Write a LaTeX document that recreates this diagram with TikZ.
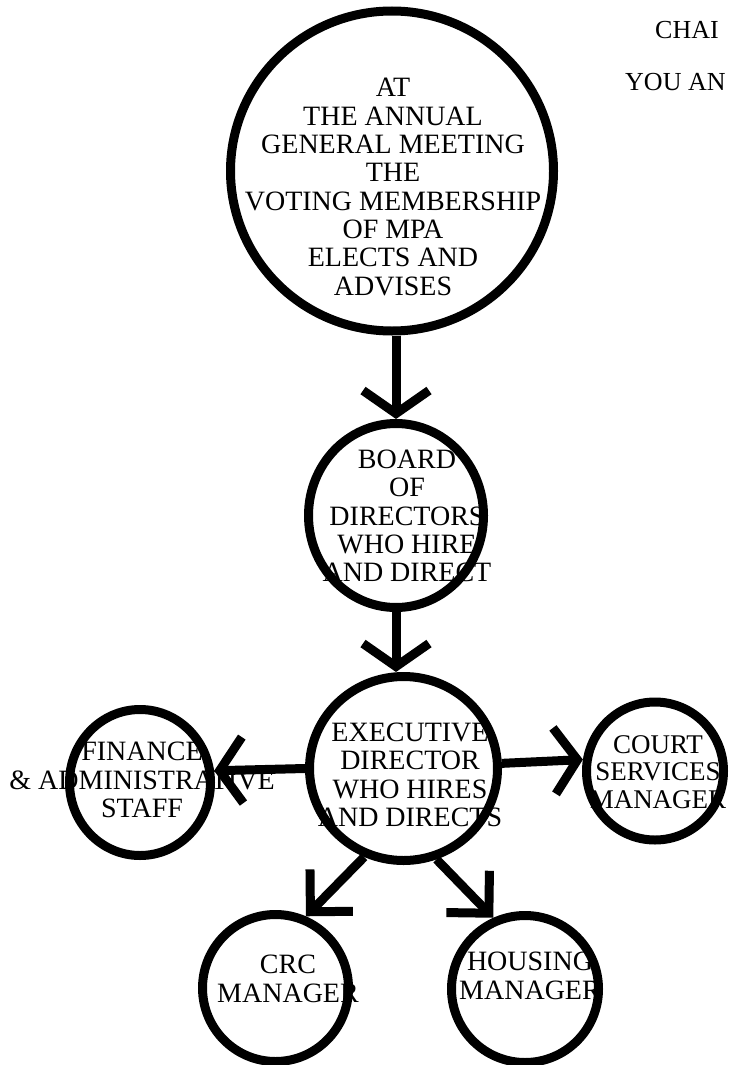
\documentclass[tikz,border=0pt]{standalone}
\usepackage{fontspec}
\setmainfont{Liberation Serif}
\usetikzlibrary{arrows.meta,shapes.geometric}
\begin{document}
\begin{tikzpicture}[x=1pt,y=-1pt,
  bub/.style={draw, ellipse, line width=9pt, inner sep=0pt},
  lbl/.style={align=center, font=\fontsize{28}{28.3}\selectfont, inner sep=0pt},
  note/.style={anchor=base west, font=\fontsize{26}{28}\selectfont, inner sep=0pt},
  link/.style={line width=9pt, -{Straight Barb[length=23pt,width=66pt]}},
  dlink/.style={line width=9pt, -{Straight Barb[length=30pt,width=60pt]}}
]
\useasboundingbox (0,0) rectangle (728,1065);

% texts (drawn first, circle strokes lie over them)
\node[lbl] (toptxt) at (393,187) {AT\\THE ANNUAL\\GENERAL MEETING\\THE\\VOTING MEMBERSHIP\\OF MPA\\ELECTS AND\\ADVISES};
\node[lbl] (boardtxt) at (407,516) {BOARD\\OF\\DIRECTORS\\WHO HIRE\\AND DIRECT};
\node[lbl] (exectxt) at (410,775) {EXECUTIVE\\DIRECTOR\\WHO HIRES\\AND DIRECTS};
\node[lbl] (fintxt) at (142,780) {FINANCE\\\& ADMINISTRATIVE\\STAFF};
\node[lbl, font=\fontsize{27}{27.3}\selectfont] (courttxt) at (658,772) {COURT\\SERVICES\\MANAGER};
\node[lbl] (crctxt) at (288,979) {CRC\\MANAGER};
\node[lbl] (houstxt) at (530,976) {HOUSING\\MANAGER};
\node[note] (chai) at (655,38) {CHAI};
\node[note] (youan) at (625,90) {YOU AN};

% circles
\node[bub, minimum width=323pt, minimum height=320pt] (top) at (392,171) {};
\node[bub, minimum width=175pt, minimum height=184pt] (board) at (396,515.5) {};
\node[bub, minimum width=188pt, minimum height=184pt] (exec) at (403.5,768.5) {};
\node[bub, minimum width=141pt, minimum height=146pt] (fin) at (140,782.5) {};
\node[bub, minimum width=137pt, minimum height=138pt] (court) at (655,771) {};
\node[bub, minimum width=146pt, minimum height=147pt] (crc) at (275.5,988) {};
\node[bub, minimum width=147pt, minimum height=147pt] (hous) at (525,989) {};

% connectors
\draw[link] (board.north |- top.south) -- (board.north);
\draw[link] (board.south) -- (board.south |- exec.north);
\draw[link] (exec.west) -- (fin.9);
\draw[link] (exec.3) -- (court.171);
\draw[dlink] (exec.-114) -- (crc.67);
\draw[dlink] (exec.-70) -- (hous.114);
\end{tikzpicture}
\end{document}
